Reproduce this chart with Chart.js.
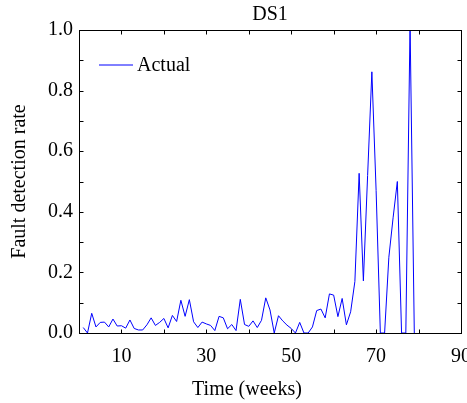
<!DOCTYPE html>
<html lang="en">
<head>
<meta charset="UTF-8">
<title>DS1</title>
<script src="https://cdn.jsdelivr.net/npm/chart.js"></script>
<style>
  html, body { margin: 0; padding: 0; background: #fff; }
  #wrap { width: 467px; height: 403px; }
</style>
</head>
<body>
<div id="wrap"><canvas id="grafico" width="467" height="403"></canvas></div>
<script>
// dados (semana -> taxa de deteccao)
const semanas = [1, 2, 3, 4, 5, 6, 7, 8, 9, 10,
    11, 12, 13, 14, 15, 16, 17, 18, 19, 20,
    21, 22, 23, 24, 25, 26, 27, 28, 29, 30,
    31, 32, 33, 34, 35, 36, 37, 38, 39, 40,
    41, 42, 43, 44, 45, 46, 47, 48, 49, 50,
    51, 52, 53, 54, 55, 56, 57, 58, 59, 60,
    61, 62, 63, 64, 65, 66, 67, 68, 69, 70,
    71, 72, 73, 74, 75, 76, 77, 78, 79];
const taxaReal = [0.018, 0.0, 0.065, 0.02, 0.035, 0.036, 0.02, 0.046, 0.023, 0.024,
    0.016, 0.043, 0.015, 0.01, 0.01, 0.027, 0.05, 0.025, 0.035, 0.048,
    0.017, 0.058, 0.038, 0.108, 0.055, 0.11, 0.037, 0.018, 0.036, 0.03,
    0.025, 0.008, 0.055, 0.05, 0.014, 0.028, 0.008, 0.111, 0.028, 0.022,
    0.04, 0.018, 0.042, 0.116, 0.076, 0.0, 0.057, 0.04, 0.026, 0.015,
    0.0, 0.035, 0.0, 0.0, 0.02, 0.074, 0.079, 0.05, 0.129, 0.125,
    0.054, 0.114, 0.027, 0.07, 0.17, 0.527, 0.172, 0.52, 0.862, 0.47,
    0.0, 0.0, 0.25, 0.38, 0.5, 0.0, 0.0, 1.02, 0.0];
const rotulosX = [10, 30, 50, 70, 90];
const rotulosY = [0.0, 0.2, 0.4, 0.6, 0.8, 1.0];

const fonte = "'Liberation Serif', 'Times New Roman', serif";

// moldura com marcas para dentro, legenda e titulo do eixo x
const moldura = {
    id: 'moldura',
    afterDraw(chart) {
        const { ctx, chartArea: a, scales } = chart;
        const l = Math.round(a.left) + 0.5, r = Math.round(a.right) + 0.5;
        const t = Math.round(a.top) + 0.5, b = Math.round(a.bottom) + 0.5;
        const tam = 4;
        ctx.save();
        ctx.strokeStyle = '#000';
        ctx.lineWidth = 1;
        ctx.beginPath();
        scales.x.ticks.forEach(tk => {
            const px = Math.round(scales.x.getPixelForValue(tk.value)) + 0.5;
            ctx.moveTo(px, b); ctx.lineTo(px, b - tam);
            ctx.moveTo(px, t); ctx.lineTo(px, t + tam);
        });
        scales.y.ticks.forEach(tk => {
            const py = Math.round(scales.y.getPixelForValue(tk.value)) + 0.5;
            ctx.moveTo(l, py); ctx.lineTo(l + tam, py);
            ctx.moveTo(r, py); ctx.lineTo(r - tam, py);
        });
        ctx.stroke();
        ctx.strokeRect(l, t, r - l, b - t);

        // legenda
        const ds = chart.data.datasets[0];
        const ly = Math.round(a.top + 35);
        ctx.strokeStyle = ds.borderColor;
        ctx.beginPath();
        ctx.moveTo(a.left + 20, ly);
        ctx.lineTo(a.left + 54, ly);
        ctx.stroke();

        ctx.fillStyle = '#000';
        ctx.font = '20px ' + fonte;
        ctx.textAlign = 'left';
        ctx.textBaseline = 'middle';
        ctx.fillText(ds.label, a.left + 58, ly + 1);

        ctx.textAlign = 'center';
        ctx.fillText('Time (weeks)', (a.left + a.right) / 2 - 23, 390);
        ctx.restore();
    }
};

new Chart(document.getElementById('grafico'), {
    type: 'line',
    data: {
        datasets: [{
            label: 'Actual',
            data: semanas.map((s, i) => ({ x: s, y: taxaReal[i] })),
            borderColor: '#0000ff',
            backgroundColor: '#0000ff',
            borderWidth: 1,
            pointRadius: 0,
            fill: false,
            tension: 0
        }]
    },
    options: {
        responsive: false,
        animation: false,
        layout: { padding: { left: 0, right: 6, top: 0, bottom: 0 } },
        plugins: {
            title: {
                display: true,
                text: 'DS1',
                fullSize: false,
                color: '#000',
                font: { family: fonte, size: 20, weight: 'normal' },
                padding: { top: 3, bottom: 3 }
            },
            legend: { display: false },
            tooltip: { enabled: false }
        },
        scales: {
            x: {
                type: 'linear',
                min: 0,
                max: 90,
                grid: { display: false, drawTicks: false },
                border: { display: false },
                ticks: {
                    stepSize: 10,
                    padding: 12,
                    autoSkip: false,
                    maxRotation: 0,
                    color: '#000',
                    font: { family: fonte, size: 20 },
                    callback: v => rotulosX.includes(v) ? String(v) : ''
                },
                afterFit: s => { s.height = 70; s.paddingLeft = 0; s.paddingRight = 0; }
            },
            y: {
                min: 0,
                max: 1,
                grid: { display: false, drawTicks: false },
                border: { display: false },
                ticks: {
                    stepSize: 0.1,
                    padding: 6,
                    autoSkip: false,
                    color: '#000',
                    font: { family: fonte, size: 20 },
                    callback: v => rotulosY.some(r => Math.abs(r - v) < 1e-6) ? v.toFixed(1) : ''
                },
                title: {
                    display: true,
                    text: 'Fault detection rate',
                    color: '#000',
                    font: { family: fonte, size: 20 },
                    padding: { top: 8, bottom: 0 }
                },
                afterFit: s => { s.width = 79; }
            }
        }
    },
    plugins: [moldura]
});
</script>
</body>
</html>
